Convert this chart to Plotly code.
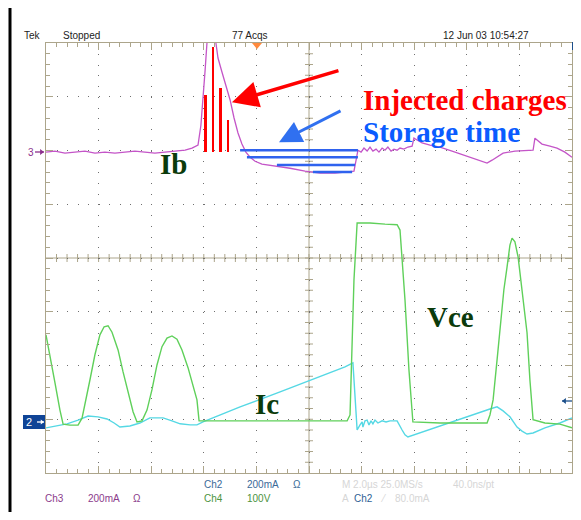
import plotly.graph_objects as go

# ---------------- data (read from the scope screen) ----------------
# time axis: 2.0 us/div, 10 divisions
ib_t = [0.00, 0.34, 0.72, 1.10, 1.48, 1.86, 2.24, 2.62, 3.00, 3.38, 3.76, 4.14, 4.52, 4.90,
        5.29, 5.55, 5.78, 5.89, 5.97, 6.05, 6.12, 6.16, 6.24, 6.39, 6.46, 6.54, 6.69, 6.84,
        7.00, 7.15, 7.30, 7.45, 7.60, 7.76, 7.95, 8.21, 8.71, 9.28, 9.85, 10.42, 10.99, 11.48,
        11.71, 11.79, 11.86, 11.98, 12.09, 12.21, 12.32, 12.43, 12.55, 12.66, 12.78, 12.89,
        13.00, 13.12, 13.23, 13.35, 13.46, 13.61, 13.76, 13.92, 13.99, 14.11, 14.30, 14.60,
        14.98, 15.44, 15.86, 16.31, 16.77, 16.96, 17.15, 17.38, 17.83, 18.21, 18.52, 18.59,
        18.71, 18.86, 19.16, 19.43, 19.73, 20.00]
ib_ma = [0, 4, -4, 0, 4, -4, 0, -4, 0, 4, 0, -4, 0, 4,
         7, 15, 26, 100, 194, 305, 406, 491, 528, 491, 406, 350, 298, 246,
         194, 127, 71, 30, 0, -19, -34, -45, -52, -60, -71, -78, -78, -74,
         -71, -30, 7, 0, 15, 4, 19, 4, 11, 0, 15, 7,
         19, 4, 11, 7, 15, 11, 19, 22, 52, 45, 34, 26,
         19, 4, -11, -26, -41, -30, -19, -4, 4, 7, 7, 52,
         41, 30, 22, 15, 0, -19]

vce_t = [0.00, 0.15, 0.34, 0.53, 0.65, 0.91, 1.22, 1.37, 1.52, 1.67, 1.86, 2.05, 2.21, 2.36,
         2.51, 2.74, 2.93, 3.12, 3.31, 3.46, 3.65, 3.84, 4.03, 4.22, 4.41, 4.60, 4.79, 4.98,
         5.17, 5.40, 5.59, 5.74, 5.82, 6.62, 8.14, 9.66, 11.45, 11.56, 11.64, 11.71, 11.83,
         12.32, 12.89, 13.35, 13.46, 13.65, 13.80, 13.95, 14.98, 16.12, 16.77, 16.88, 17.00,
         17.15, 17.26, 17.41, 17.53, 17.64, 17.72, 17.83, 17.95, 18.10, 18.29, 18.40, 18.52,
         18.97, 19.54, 20.00]
vce_v = [162, 125, 73, 22, -4, -6, -6, 7, 41, 78, 125, 162, 177, 179,
         167, 134, 93, 54, 19, 0, 2, 22, 60, 106, 140, 156, 160, 154,
         134, 101, 69, 41, 2, 2, 2, 2, 2, 13, 134, 264, 370,
         370, 368, 367, 357, 227, 97, 0, -2, -2, -2, 13, 41,
         115, 166, 246, 288, 329, 342, 335, 307, 246, 166, 78, 4,
         -2, -4, -11]

ic_t = [0.00, 0.34, 0.80, 1.22, 1.60, 1.98, 2.32, 2.59, 2.81, 3.19, 3.57, 3.95, 4.45, 4.79,
        5.10, 5.48, 5.74, 5.97, 6.62, 7.38, 8.90, 10.42, 11.37, 11.67, 11.75, 11.83, 11.94,
        12.02, 12.05, 12.13, 12.21, 12.28, 12.36, 12.43, 12.51, 12.62, 12.78, 12.93, 13.08,
        13.35, 13.54, 13.65, 13.76, 13.88, 13.95, 14.98, 16.12, 16.88, 17.15, 17.38, 17.64,
        17.91, 18.10, 18.29, 18.52, 18.97, 19.54, 20.00]
ic_ma = [-22, -15, -7, 7, 22, 19, 11, -4, -19, -15, -4, 15, 15, 4,
         -7, -11, -11, 0, 26, 56, 112, 171, 205, 220, 101, -30, -11,
         0, -19, 4, 7, -11, 4, -7, 7, -4, 4, 0, 4,
         4, -30, -48, -56, -52, -48, -15, 22, 48, 56, 41, 19,
         -19, -34, -45, -41, -22, -4, 15]

# injected-charge bars (on the Ib trace)
charge_t = [6.08, 6.35, 6.62, 6.92]
charge_ma = [212, 391, 238, 119]

# storage-time hatch lines (on the Ib trace)
storage_level_ma = [7, -19, -48, -74]
storage_start_t = [7.38, 7.64, 8.78, 10.15]
storage_end_t = [11.86, 11.86, 11.75, 11.64]

# channel settings
US_PER_DIV = 2.0
CH3_MA_PER_DIV, CH3_OFFSET_DIV = 200, 1.97
CH2_MA_PER_DIV, CH2_OFFSET_DIV = 200, -3.05
CH4_V_PER_DIV, CH4_OFFSET_DIV = 100, -3.05

# ---------------- layout geometry (window pixels) ----------------
PAGE = 8                      # browser body margin
W, H = 581 - PAGE, 520 - 2 * PAGE
L, R, T, B = 46, 572, 43, 473
TAN = "#aca58b"
DOT = "#6f6f6f"
SANS = "Liberation Sans, Arial, sans-serif"
SERIF = "Liberation Serif, Times New Roman, serif"


def P(px, py):
    return (px - L) / (R - L), (B - py) / (B - T)


def ch_range(per_div, off):
    return [(-4 - off) * per_div, (4 - off) * per_div]


fig = go.Figure()

fig.add_trace(go.Scatter(x=ib_t, y=ib_ma, yaxis="y2", mode="lines",
                         line=dict(color="#c455c8", width=1.3), hoverinfo="skip"))
fig.add_trace(go.Scatter(x=vce_t, y=vce_v, yaxis="y4", mode="lines",
                         line=dict(color="#5fd05a", width=1.4), hoverinfo="skip"))
fig.add_trace(go.Scatter(x=ic_t, y=ic_ma, yaxis="y3", mode="lines",
                         line=dict(color="#55d8e4", width=1.4), hoverinfo="skip"))

fig.add_trace(go.Bar(x=charge_t, y=charge_ma, yaxis="y2", width=0.11,
                     marker=dict(color="#ff0000", line=dict(width=0)), hoverinfo="skip"))

sx, sy = [], []
for lv, a, b in zip(storage_level_ma, storage_start_t, storage_end_t):
    sx += [a, b, None]
    sy += [lv, lv, None]
fig.add_trace(go.Scatter(x=sx, y=sy, yaxis="y2", mode="lines",
                         line=dict(color="#2f62ee", width=2.6), hoverinfo="skip"))

# ---------------- graticule ----------------
shapes = []
shapes.append(dict(type="line", xref="x", yref="y", x0=10, x1=10, y0=-4, y1=4,
                   line=dict(color=TAN, width=1), layer="below"))
shapes.append(dict(type="line", xref="x", yref="y", x0=0, x1=20, y0=0, y1=0,
                   line=dict(color=TAN, width=1), layer="below"))
tx = 4 / ((R - L) / 10) * US_PER_DIV
ty = 4 / ((B - T) / 8)
for k in range(1, 50):
    x = k * 0.4
    shapes.append(dict(type="line", xref="x", yref="y", x0=x, x1=x, y0=-ty, y1=ty,
                       line=dict(color=TAN, width=1), layer="below"))
for k in range(1, 40):
    y = -4 + k * 0.2
    shapes.append(dict(type="line", xref="x", yref="y", x0=10 - tx, x1=10 + tx, y0=y, y1=y,
                       line=dict(color=TAN, width=1), layer="below"))

# page frame
x0, y0 = P(10, 0)
x1, y1 = P(10, 520)
shapes.append(dict(type="line", xref="paper", yref="paper", x0=x0, x1=x1, y0=y0, y1=y1,
                   line=dict(color="black", width=3)))
x0, y0 = P(10, 5)
x1, y1 = P(581, 5)
shapes.append(dict(type="line", xref="paper", yref="paper", x0=x0, x1=x1, y0=y0, y1=y1,
                   line=dict(color="black", width=3)))
# trigger position marker (orange triangle)
a = P(252, 43); b = P(262, 43); c = P(257, 49)
shapes.append(dict(type="path", xref="paper", yref="paper",
                   path=f"M {a[0]} {a[1]} L {b[0]} {b[1]} L {c[0]} {c[1]} Z",
                   fillcolor="#ff8a3d", line=dict(width=0)))
# right-top navy marker
a = P(572, 42); b = P(577, 50)
shapes.append(dict(type="rect", xref="paper", yref="paper", x0=a[0], x1=b[0], y0=a[1], y1=b[1],
                   fillcolor="#1c4f8a", line=dict(width=0)))
# channel 2 marker box
a = P(23, 415); b = P(45, 429)
shapes.append(dict(type="rect", xref="paper", yref="paper", x0=a[0], x1=b[0], y0=a[1], y1=b[1],
                   fillcolor="#0f4496", line=dict(width=0)))


def arrow_marker(x_from, x_to, py, color, head=3):
    """small horizontal arrow drawn from x_from to x_to (window px)"""
    a = P(x_from, py); b = P(x_to, py)
    shapes.append(dict(type="line", xref="paper", yref="paper", x0=a[0], x1=b[0], y0=a[1], y1=b[1],
                       line=dict(color=color, width=1.3)))
    s = 1 if x_to > x_from else -1
    t1 = P(x_to, py); t2 = P(x_to - s * head * 1.3, py - head); t3 = P(x_to - s * head * 1.3, py + head)
    shapes.append(dict(type="path", xref="paper", yref="paper",
                       path=f"M {t1[0]} {t1[1]} L {t2[0]} {t2[1]} L {t3[0]} {t3[1]} Z",
                       fillcolor=color, line=dict(width=0)))


arrow_marker(35, 44, 152, "#8b2f8b")
arrow_marker(37, 44, 422, "#ffffff", head=2.5)
arrow_marker(572, 562, 401, "#1c4f8a")

ann = []


def label(text, px, py, color, size=10, family=SANS, anchor="left", bold=False):
    x, y = P(px, py)
    ann.append(dict(text=f"<b>{text}</b>" if bold else text, x=x, y=y, xref="paper", yref="paper",
                    xanchor=anchor, yanchor="middle", showarrow=False, borderpad=0, borderwidth=0,
                    font=dict(family=family, size=size, color=color)))


label("Tek", 24, 35, "#222222")
label("Stopped", 63, 35, "#222222")
label("77 Acqs", 232, 35, "#222222")
label("12 Jun 03 10:54:27", 443, 35, "#222222")

label("Ch3", 45, 498, "#8b3b8b")
label("200mA", 88, 498, "#8b3b8b")
label("Ω", 133, 498, "#8b3b8b")
label("Ch2", 204, 485, "#3b6a98")
label("200mA", 247, 485, "#3b6a98")
label("Ω", 293, 485, "#3b6a98")
label("Ch4", 204, 498, "#4c9340")
label("100V", 247, 498, "#4c9340")
label("M 2.0µs 25.0MS/s", 342, 485, "#d6d6d6")
label("40.0ns/pt", 453, 485, "#d6d6d6")
label("A", 342, 498, "#d6d6d6")
label("Ch2", 354, 498, "#2f5f95")
label("⁄", 380, 498, "#d6d6d6")
label("80.0mA", 395, 498, "#d6d6d6")

label("3", 28, 152, "#8b2f8b")
label("2", 26, 422, "#ffffff", size=11)

label("Injected charges", 363, 100, "#ff0000", size=29, family=SERIF, bold=True)
label("Storage time", 363, 132, "#0a5cff", size=29, family=SERIF, bold=True)
label("Ib", 160, 164, "#0b3b0b", size=29, family=SERIF, bold=True)
label("Vce", 427, 317, "#0b3b0b", size=29, family=SERIF, bold=True)
label("Ic", 255, 404, "#0b3b0b", size=29, family=SERIF, bold=True)

# arrows
ann.append(dict(x=7.07, y=186, xref="x", yref="y2", ax=108, ay=-32, axref="pixel", ayref="pixel",
                showarrow=True, arrowhead=2, arrowsize=1.5, arrowwidth=3.5, arrowcolor="#ff0000",
                standoff=0, text=""))
ann.append(dict(x=8.86, y=37, xref="x", yref="y2", ax=63, ay=-32, axref="pixel", ayref="pixel",
                showarrow=True, arrowhead=2, arrowsize=1.5, arrowwidth=3, arrowcolor="#3070f0",
                standoff=0, text=""))

fig.update_layout(
    width=W, height=H,
    margin=dict(l=L - PAGE, r=W - (R - PAGE), t=T - PAGE, b=H - (B - PAGE), pad=0),
    paper_bgcolor="white", plot_bgcolor="white",
    showlegend=False, bargap=0,
    xaxis=dict(range=[0, 10 * US_PER_DIV], dtick=US_PER_DIV, tick0=0,
               showgrid=True, gridcolor=DOT, gridwidth=1, griddash="1px,9.75px",
               ticks="inside", ticklen=7, tickcolor=TAN, tickwidth=1,
               minor=dict(ticks="inside", ticklen=4, dtick=US_PER_DIV / 5, tickcolor=TAN,
                          showgrid=False),
               showline=True, linecolor=TAN, linewidth=1, mirror="ticks",
               showticklabels=False, zeroline=False),
    yaxis=dict(range=[-4, 4], dtick=1, tick0=0,
               showgrid=True, gridcolor=DOT, gridwidth=1, griddash="1px,9.52px",
               ticks="inside", ticklen=7, tickcolor=TAN, tickwidth=1,
               minor=dict(ticks="inside", ticklen=4, dtick=0.2, tickcolor=TAN, showgrid=False),
               showline=True, linecolor=TAN, linewidth=1, mirror="ticks",
               showticklabels=False, zeroline=False),
    yaxis2=dict(range=ch_range(CH3_MA_PER_DIV, CH3_OFFSET_DIV), overlaying="y", visible=False),
    yaxis3=dict(range=ch_range(CH2_MA_PER_DIV, CH2_OFFSET_DIV), overlaying="y", visible=False),
    yaxis4=dict(range=ch_range(CH4_V_PER_DIV, CH4_OFFSET_DIV), overlaying="y", visible=False),
    shapes=shapes,
    annotations=ann,
)

fig.write_html("out.html")
